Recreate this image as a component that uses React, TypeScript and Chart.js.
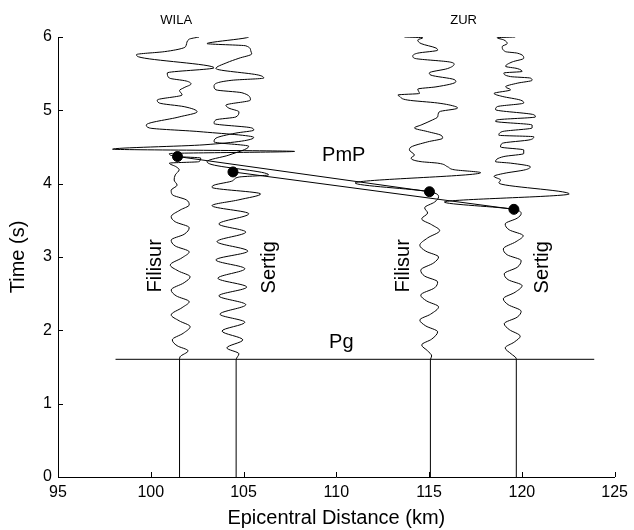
import React, { useEffect, useRef } from 'react';
import { Chart, registerables } from 'chart.js';

Chart.register(...registerables);

// ---- data: [time (s), epicentral distance (km)] ----
const filisurWila: number[][] = [
  [0.0, 101.55], [1.6, 101.55], [1.64, 101.58], [1.72, 102.01], [1.79, 101.42], [1.87, 101.16], [1.96, 101.75],
  [2.05, 102.12], [2.13, 101.53], [2.21, 101.1], [2.31, 101.69], [2.39, 102.07], [2.47, 101.37], [2.55, 101.1],
  [2.65, 101.8], [2.73, 102.12], [2.81, 101.48], [2.89, 101.05], [2.99, 101.69], [3.07, 102.07], [3.15, 101.32],
  [3.23, 101.1], [3.31, 101.8], [3.4, 102.07], [3.48, 101.32], [3.55, 101.1], [3.64, 101.58], [3.71, 102.07],
  [3.78, 101.91], [3.85, 101.16], [3.91, 101.1], [3.98, 101.42], [4.05, 101.26], [4.12, 101.32], [4.19, 101.53],
  [4.23, 101.37], [4.28, 101.0], [4.3, 102.6], [4.35, 102.69], [4.37, 101.42], [4.41, 101.0], [4.44, 107.75],
  [4.47, 97.94], [4.53, 102.87], [4.63, 105.55], [4.71, 102.6], [4.76, 99.92], [4.8, 99.76], [4.91, 101.53],
  [4.98, 102.5], [5.05, 101.8], [5.1, 100.46], [5.14, 100.35], [5.21, 101.69], [5.27, 101.55], [5.31, 101.8],
  [5.36, 102.17], [5.4, 101.91], [5.44, 101.0], [5.51, 100.89], [5.58, 103.41], [5.73, 99.34], [5.76, 99.23],
  [5.8, 100.73], [5.85, 101.75], [5.89, 101.91], [5.97, 102.07], [6.0, 102.6],
];

const sertigWila: number[][] = [
  [0.0, 104.6], [1.6, 104.6], [1.68, 104.75], [1.76, 104.1], [1.87, 104.96], [1.99, 103.84], [2.11, 105.07],
  [2.22, 103.73], [2.35, 105.12], [2.47, 103.67], [2.59, 105.17], [2.71, 103.62], [2.84, 105.07], [2.96, 103.51],
  [3.08, 105.23], [3.21, 103.57], [3.34, 105.12], [3.45, 103.67], [3.59, 105.28], [3.7, 103.3], [3.78, 104.75],
  [3.86, 105.92], [3.95, 103.3], [3.98, 103.41], [4.04, 104.42], [4.09, 104.75], [4.12, 106.35], [4.26, 103.3],
  [4.3, 103.03], [4.39, 104.21], [4.51, 105.28], [4.57, 103.41], [4.62, 103.51], [4.69, 104.59], [4.73, 105.55],
  [4.76, 105.44], [4.82, 103.41], [4.87, 103.51], [4.91, 104.59], [4.98, 104.75], [5.03, 104.21], [5.07, 104.05],
  [5.14, 105.37], [5.24, 104.91], [5.28, 103.51], [5.33, 103.41], [5.41, 104.37], [5.44, 106.09], [5.48, 105.82],
  [5.57, 103.51], [5.65, 104.1], [5.71, 104.75], [5.77, 105.44], [5.81, 105.39], [5.88, 105.12], [5.91, 103.03],
  [5.92, 103.14], [5.99, 105.17], [6.0, 105.28],
];

const filisurZur: number[][] = [
  [0.0, 115.07], [1.6, 115.07], [1.65, 115.14], [1.72, 114.92], [1.8, 114.6], [1.88, 115.14], [1.98, 115.46],
  [2.06, 114.82], [2.14, 114.5], [2.22, 115.08], [2.32, 115.51], [2.4, 114.87], [2.48, 114.55], [2.58, 115.3],
  [2.66, 115.46], [2.74, 114.76], [2.82, 114.55], [2.92, 115.25], [3.0, 115.51], [3.08, 114.82], [3.16, 114.5],
  [3.26, 114.92], [3.36, 115.57], [3.44, 115.14], [3.52, 114.6], [3.6, 114.92], [3.67, 114.76], [3.75, 115.3],
  [3.82, 115.51], [3.89, 115.02], [4.01, 111.01], [4.15, 117.78], [4.19, 116.35], [4.23, 116.0], [4.28, 115.46],
  [4.3, 114.57], [4.35, 114.03], [4.39, 114.21], [4.46, 113.94], [4.5, 114.03], [4.57, 114.92], [4.62, 115.73],
  [4.66, 115.64], [4.71, 114.92], [4.76, 114.21], [4.8, 114.57], [4.87, 115.19], [4.91, 115.46], [4.98, 115.55],
  [5.03, 116.53], [5.05, 116.44], [5.1, 115.46], [5.14, 113.85], [5.19, 113.41], [5.21, 113.32], [5.23, 114.48],
  [5.29, 114.39], [5.32, 115.37], [5.39, 116.44], [5.42, 116.35], [5.48, 115.1], [5.51, 115.01], [5.57, 116.0],
  [5.63, 116.35], [5.66, 116.09], [5.71, 114.21], [5.74, 114.12], [5.78, 114.39], [5.82, 115.46], [5.85, 115.37],
  [5.91, 114.57], [5.96, 114.39], [5.99, 114.66], [6.0, 113.67],
];

const sertigZur: number[][] = [
  [0.0, 119.7], [1.6, 119.7], [1.62, 119.69], [1.68, 119.42], [1.76, 119.1], [1.84, 119.59], [1.92, 119.91],
  [2.01, 119.32], [2.09, 119.05], [2.18, 119.75], [2.26, 119.96], [2.35, 119.26], [2.43, 119.0], [2.52, 119.64],
  [2.61, 120.01], [2.69, 119.26], [2.77, 119.05], [2.86, 119.75], [2.95, 119.96], [3.03, 119.21], [3.11, 119.0],
  [3.21, 119.69], [3.29, 120.07], [3.37, 119.32], [3.45, 119.1], [3.53, 119.75], [3.59, 119.96], [3.65, 119.57],
  [3.75, 115.82], [3.86, 122.55], [4.01, 118.76], [4.05, 118.85], [4.1, 118.5], [4.14, 119.03], [4.19, 120.19],
  [4.23, 120.46], [4.28, 119.39], [4.3, 118.58], [4.37, 119.03], [4.41, 120.1], [4.46, 120.1], [4.5, 118.85],
  [4.55, 118.94], [4.6, 120.46], [4.64, 120.64], [4.66, 118.76], [4.71, 118.94], [4.76, 120.55], [4.8, 120.55],
  [4.85, 118.58], [4.87, 118.67], [4.91, 120.73], [4.94, 120.64], [5.01, 118.58], [5.05, 118.67], [5.1, 120.1],
  [5.14, 119.92], [5.19, 118.94], [5.23, 118.5], [5.28, 119.39], [5.32, 119.12], [5.37, 119.75], [5.41, 120.55],
  [5.44, 120.46], [5.46, 119.39], [5.51, 119.03], [5.53, 120.01], [5.57, 119.75], [5.6, 119.12], [5.66, 119.48],
  [5.71, 120.1], [5.78, 119.75], [5.8, 119.12], [5.87, 118.94], [5.91, 119.21], [5.96, 119.03], [5.99, 118.67],
  [6.0, 119.64],
];

// PmP picks: Filisur@WILA, Sertig@WILA, Filisur@ZUR, Sertig@ZUR
const pmpPickDistance = [101.44, 104.43, 115.02, 119.57];
const pmpPickTime = [4.37, 4.16, 3.89, 3.65];

// Pg onset line
const pgTime = 1.605;
const pgDistanceRange = [98.1, 123.9];

// axis ranges / ticks
const distanceRange = [95, 125];
const timeRange = [0, 6];
const distanceStep = 5;
const timeStep = 1;

// text annotations (data units)
const stationLabels = [
  { text: 'WILA', x: 101.37, t: 6.23 },
  { text: 'ZUR', x: 116.86, t: 6.23 },
];
const phaseLabels = [
  { text: 'PmP', x: 110.4, t: 4.38 },
  { text: 'Pg', x: 110.27, t: 1.83 },
];
const eventLabels = [
  { text: 'Filisur', x: 100.25, t: 2.88 },
  { text: 'Sertig', x: 106.38, t: 2.86 },
  { text: 'Filisur', x: 113.63, t: 2.88 },
  { text: 'Sertig', x: 121.13, t: 2.86 },
];

const FONT = "'Liberation Sans', Arial, Helvetica, sans-serif";

const toPoints = (rows: number[][]) => rows.map(([t, d]) => ({ x: d, y: t }));

const traceDataset = (label: string, rows: number[][]) => ({
  label,
  data: toPoints(rows),
  borderColor: '#000',
  borderWidth: 1,
  pointRadius: 0,
  fill: false,
  indexAxis: 'y',
  cubicInterpolationMode: 'monotone',
});

const decorPlugin = {
  id: 'decor',
  afterDraw(chart: any) {
    const { ctx, chartArea } = chart;
    const xs = chart.scales.x;
    const ys = chart.scales.y;
    ctx.save();
    ctx.strokeStyle = '#000';
    ctx.lineWidth = 1;
    // inward ticks
    xs.ticks.forEach((tk: any) => {
      const px = Math.round(xs.getPixelForValue(tk.value)) + 0.5;
      ctx.beginPath();
      ctx.moveTo(px, chartArea.bottom);
      ctx.lineTo(px, chartArea.bottom - 5);
      ctx.stroke();
    });
    ys.ticks.forEach((tk: any) => {
      const py = Math.round(ys.getPixelForValue(tk.value)) + 0.5;
      ctx.beginPath();
      ctx.moveTo(chartArea.left, py);
      ctx.lineTo(chartArea.left + 5, py);
      ctx.stroke();
    });
    ctx.fillStyle = '#000';
    ctx.textAlign = 'center';
    ctx.textBaseline = 'middle';
    ctx.font = `13px ${FONT}`;
    stationLabels.forEach((l) => {
      ctx.fillText(l.text, xs.getPixelForValue(l.x), ys.getPixelForValue(l.t));
    });
    ctx.font = `20px ${FONT}`;
    phaseLabels.forEach((l) => {
      ctx.fillText(l.text, xs.getPixelForValue(l.x), ys.getPixelForValue(l.t));
    });
    eventLabels.forEach((l) => {
      ctx.save();
      ctx.translate(xs.getPixelForValue(l.x), ys.getPixelForValue(l.t));
      ctx.rotate(-Math.PI / 2);
      ctx.fillText(l.text, 0, 0);
      ctx.restore();
    });
    ctx.restore();
  },
};

export default function App() {
  const canvasRef = useRef<HTMLCanvasElement | null>(null);

  useEffect(() => {
    if (!canvasRef.current) return;
    Chart.defaults.font.family = FONT;
    Chart.defaults.color = '#000';

    const picks = pmpPickDistance.map((d, i) => ({ x: d, y: pmpPickTime[i] }));

    const chart = new Chart(canvasRef.current, {
      type: 'line',
      data: {
        datasets: [
          traceDataset('Filisur WILA', filisurWila),
          traceDataset('Sertig WILA', sertigWila),
          traceDataset('Filisur ZUR', filisurZur),
          traceDataset('Sertig ZUR', sertigZur),
          {
            label: 'Pg',
            data: pgDistanceRange.map((d) => ({ x: d, y: pgTime })),
            borderColor: '#000',
            borderWidth: 1,
            pointRadius: 0,
            fill: false,
          },
          {
            label: 'PmP Filisur',
            data: [picks[0], picks[2]],
            borderColor: '#000',
            borderWidth: 1,
            pointRadius: 0,
            fill: false,
          },
          {
            label: 'PmP Sertig',
            data: [picks[1], picks[3]],
            borderColor: '#000',
            borderWidth: 1,
            pointRadius: 0,
            fill: false,
          },
          {
            label: 'PmP picks',
            data: picks,
            showLine: false,
            pointRadius: 5,
            pointBorderWidth: 1,
            pointBackgroundColor: '#000',
            pointBorderColor: '#000',
            borderColor: '#000',
          },
        ] as any,
      },
      options: {
        animation: false,
        responsive: false,
        devicePixelRatio: 1,
        events: [],
        layout: { padding: { top: 37, right: 16, left: 0, bottom: 0 } },
        plugins: { legend: { display: false }, tooltip: { enabled: false } },
        scales: {
          x: {
            type: 'linear',
            position: 'bottom',
            min: distanceRange[0],
            max: distanceRange[1],
            ticks: { stepSize: distanceStep, color: '#000', font: { size: 16 }, padding: 6, maxRotation: 0, autoSkip: false },
            grid: { drawOnChartArea: false, drawTicks: false },
            border: { display: true, color: '#000', width: 1 },
            title: { display: true, text: 'Epicentral Distance (km)', color: '#000', font: { size: 20 }, padding: { top: 0, bottom: 0 } },
            afterFit: (s: any) => { s.height = 53; },
          },
          y: {
            type: 'linear',
            position: 'left',
            min: timeRange[0],
            max: timeRange[1],
            ticks: { stepSize: timeStep, color: '#000', font: { size: 16 }, padding: 6 },
            grid: { drawOnChartArea: false, drawTicks: false },
            border: { display: true, color: '#000', width: 1 },
            title: { display: true, text: 'Time (s)', color: '#000', font: { size: 20 }, padding: { top: 6, bottom: 0 } },
            afterFit: (s: any) => { s.width = 58; },
          },
        },
      } as any,
      plugins: [decorPlugin],
    });
    return () => chart.destroy();
  }, []);

  return (
    <div style={{ position: 'absolute', left: 0, top: 0, width: 634, height: 530, background: '#fff' }}>
      <canvas ref={canvasRef} width={634} height={530} style={{ display: 'block' }} />
    </div>
  );
}
